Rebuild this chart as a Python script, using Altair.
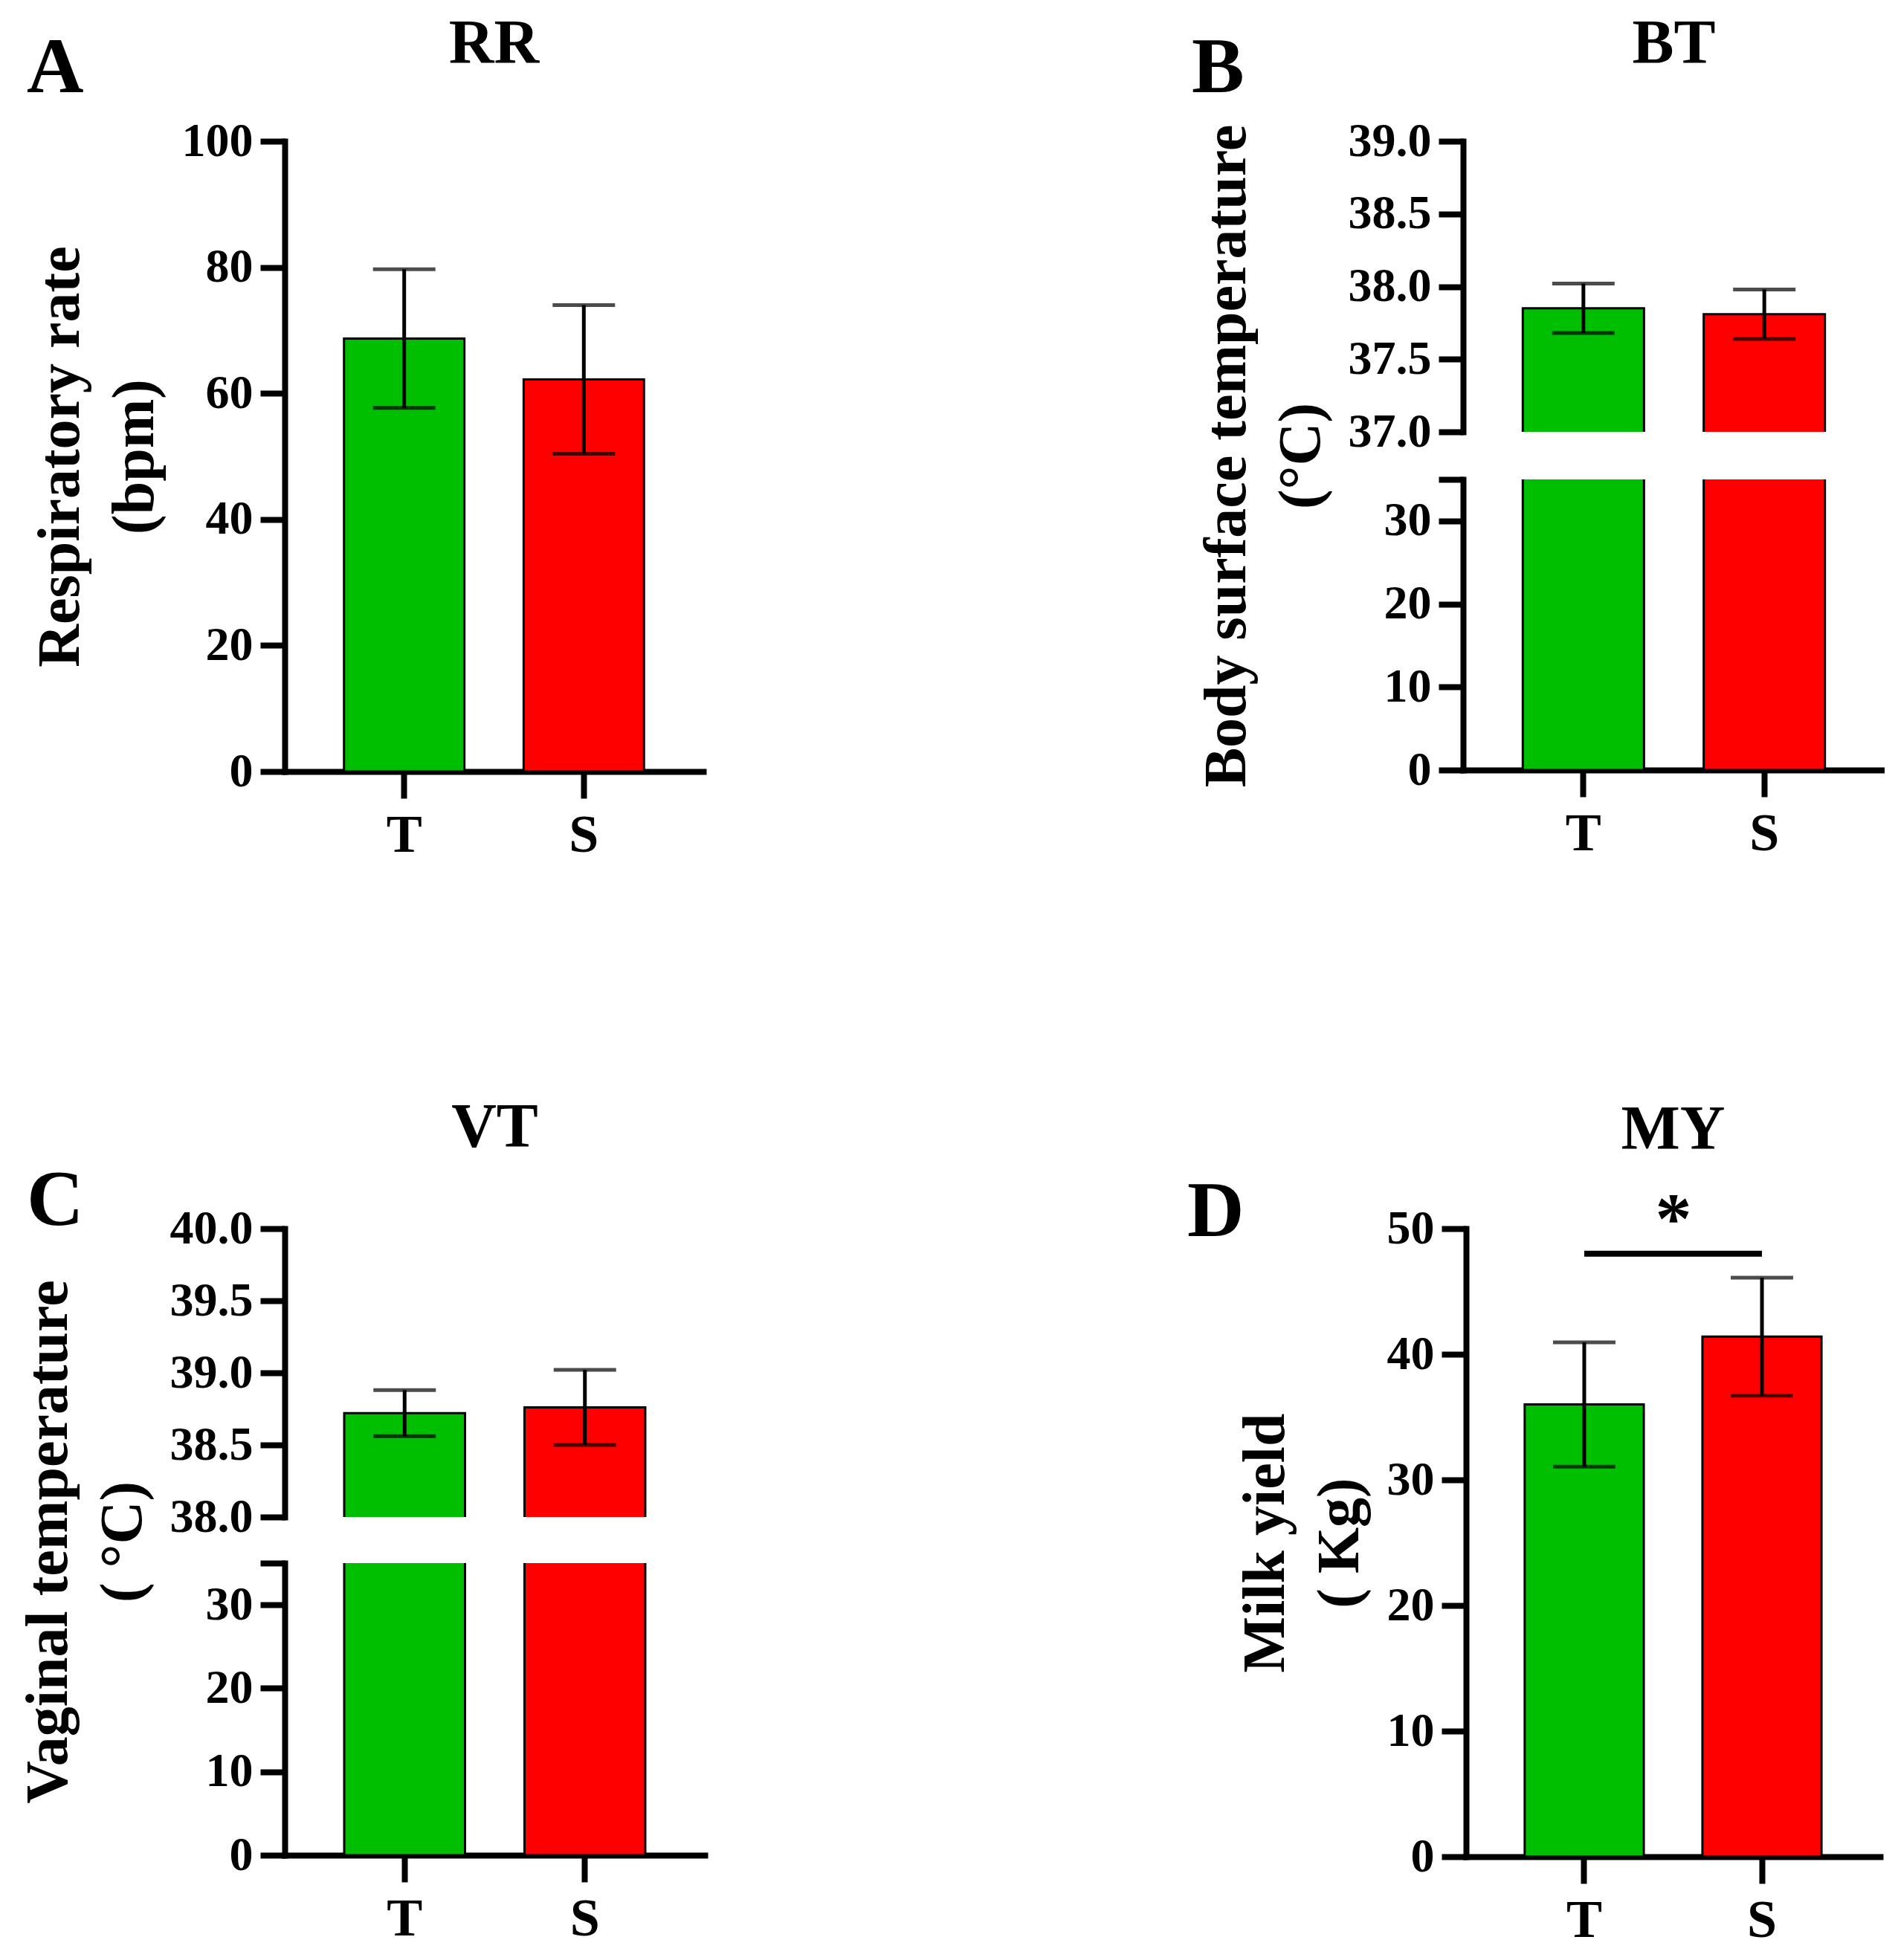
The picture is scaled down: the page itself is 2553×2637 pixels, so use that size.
import altair as alt
import pandas as pd

groups = ["T", "S"]
bar_colors = ["#00bf00", "#ff0000"]

rr_mean = [68.7, 62.2]
rr_sd = [11.0, 11.8]
bt_mean = [37.85, 37.81]
bt_sd = [0.17, 0.17]
vt_mean = [38.72, 38.76]
vt_sd = [0.16, 0.26]
my_mean = [36.0, 41.4]
my_sd = [4.95, 4.7]

rr_ticks = [0, 20, 40, 60, 80, 100]
bt_ticks_hi = [37.0, 37.5, 38.0, 38.5, 39.0]
vt_ticks_hi = [38.0, 38.5, 39.0, 39.5, 40.0]
low_ticks = [0, 10, 20, 30, 35]
my_ticks = [0, 10, 20, 30, 40, 50]

my_sig_groups = ["T", "S"]
my_sig_line = [48.0, 48.0]
my_sig_star_at = ["T"]
my_sig_star = [50.6]

FONT = "Liberation Serif"


def stats(mean, sd):
    return pd.DataFrame({
        "group": groups,
        "mean": mean,
        "lo": [m - s for m, s in zip(mean, sd)],
        "hi": [m + s for m, s in zip(mean, sd)],
    })


def x_enc(show_axis):
    axis = None
    if show_axis:
        axis = alt.Axis(title=None, labelAngle=0, labelFontSize=72, tickSize=36, labelPadding=14)
    return alt.X("group:N", sort=groups,
                 scale=alt.Scale(domain=groups, paddingInner=0.33, paddingOuter=0.33), axis=axis)


def y_axis(values, title=None, fmt=None, title_y=None, hide_top=False):
    kw = dict(values=values, tickSize=33, labelFontSize=64, labelPadding=10, grid=False,
              title=title, titleFontSize=80, titleLineHeight=100, titlePadding=22)
    if fmt:
        kw["format"] = fmt
    if title_y is not None:
        kw["titleY"] = title_y
    if hide_top:
        kw["labelExpr"] = "datum.value == 35 ? '' : datum.label"
    return alt.Axis(**kw)


def bar_layers(df, domain, axis, show_x, errors=True):
    scale = alt.Scale(domain=domain, nice=False, zero=False)
    base = alt.Chart(df).encode(x=x_enc(show_x))
    bars = base.mark_bar(stroke="black", strokeWidth=3, clip=True).encode(
        y=alt.Y("mean:Q", scale=scale, axis=axis),
        color=alt.Color("group:N", scale=alt.Scale(domain=groups, range=bar_colors), legend=None),
    )
    layers = [bars]
    if errors:
        layers.append(base.mark_rule(color="black", strokeWidth=5).encode(y="lo:Q", y2="hi:Q"))
        layers.append(base.mark_tick(color="black", size=84, thickness=5).encode(y="hi:Q"))
        layers.append(base.mark_tick(color="black", size=84, thickness=5).encode(y="lo:Q"))
    return layers


def label(text, x, y, size, align):
    return alt.Chart(pd.DataFrame({"label": [text]})).mark_text(
        font=FONT, fontSize=size, fontWeight="bold", align=align, baseline="alphabetic", color="black"
    ).encode(text="label:N", x=alt.value(x), y=alt.value(y))


def headings(letter, lx, ly, name, center, ny):
    return [label(letter, lx, ly, 106, "left"), label(name, center, ny, 84, "center")]


# A: respiratory rate
rr = stats(rr_mean, rr_sd)
panel_a = alt.layer(
    *bar_layers(rr, [0, 100], y_axis(rr_ticks, ["Respiratory rate", "(bpm)"]), True),
    *headings("A", -347, -66, "RR", 563 / 2, -105),
).properties(width=563, height=848)

# B: body surface temperature, broken axis
bt = stats(bt_mean, bt_sd)
b_top = alt.layer(
    *bar_layers(bt, [37, 39], y_axis(bt_ticks_hi, ["Body surface temperature", "(°C)"], ".1f", 423), False),
    *headings("B", -365, -66, "BT", 567 / 2, -105),
).properties(width=567, height=391)
b_bot = alt.layer(
    *bar_layers(bt, [0, 35], y_axis(low_ticks, hide_top=True), True, errors=False),
).properties(width=567, height=391)
panel_b = alt.vconcat(b_top, b_bot, spacing=64, bounds="flush")

# C: vaginal temperature, broken axis
vt = stats(vt_mean, vt_sd)
c_top = alt.layer(
    *bar_layers(vt, [38, 40], y_axis(vt_ticks_hi, ["Vaginal temperature", "( °C)"], ".1f", 421), False),
    *headings("C", -347, -5, "VT", 565 / 2, -110),
).properties(width=565, height=388)
c_bot = alt.layer(
    *bar_layers(vt, [0, 35], y_axis(low_ticks, hide_top=True), True, errors=False),
).properties(width=565, height=393)
panel_c = alt.vconcat(c_top, c_bot, spacing=62, bounds="flush")

# D: milk yield with significance mark (same x field as the bars so the axes merge)
my = stats(my_mean, my_sd)
sig_line_df = pd.DataFrame({"group": my_sig_groups, "line": my_sig_line})
sig_star_df = pd.DataFrame({"group": my_sig_star_at, "star": my_sig_star})
sig_rule = alt.Chart(sig_line_df).mark_line(color="black", strokeWidth=8, strokeCap="butt").encode(
    x=x_enc(True), y="line:Q")
sig_star = alt.Chart(sig_star_df).mark_text(
    text="*", font=FONT, fontSize=98, fontWeight="bold", baseline="middle", dx=120, color="black"
).encode(x=x_enc(True), y="star:Q")
panel_d = alt.layer(
    *bar_layers(my, [0, 50], y_axis(my_ticks, ["Milk yield", "( Kg)"]), True),
    sig_rule, sig_star,
    *headings("D", -375, 10, "MY", 557 / 2, -107),
).properties(width=557, height=845)

row1 = alt.hconcat(panel_a, panel_b, spacing=657)
row2 = alt.hconcat(panel_c, panel_d, spacing=649)

chart = alt.vconcat(row1, row2, spacing=317).properties(
    padding={"left": 17, "top": 10, "right": 0, "bottom": 0}
).configure_view(stroke=None).configure_axis(
    domainColor="black", domainWidth=8, domainCap="square", tickColor="black", tickWidth=8,
    labelColor="black", labelFont=FONT, labelFontWeight="bold",
    titleColor="black", titleFont=FONT, titleFontWeight="bold",
)

chart.save("out.html", embed_options={"renderer": "svg", "actions": False})
